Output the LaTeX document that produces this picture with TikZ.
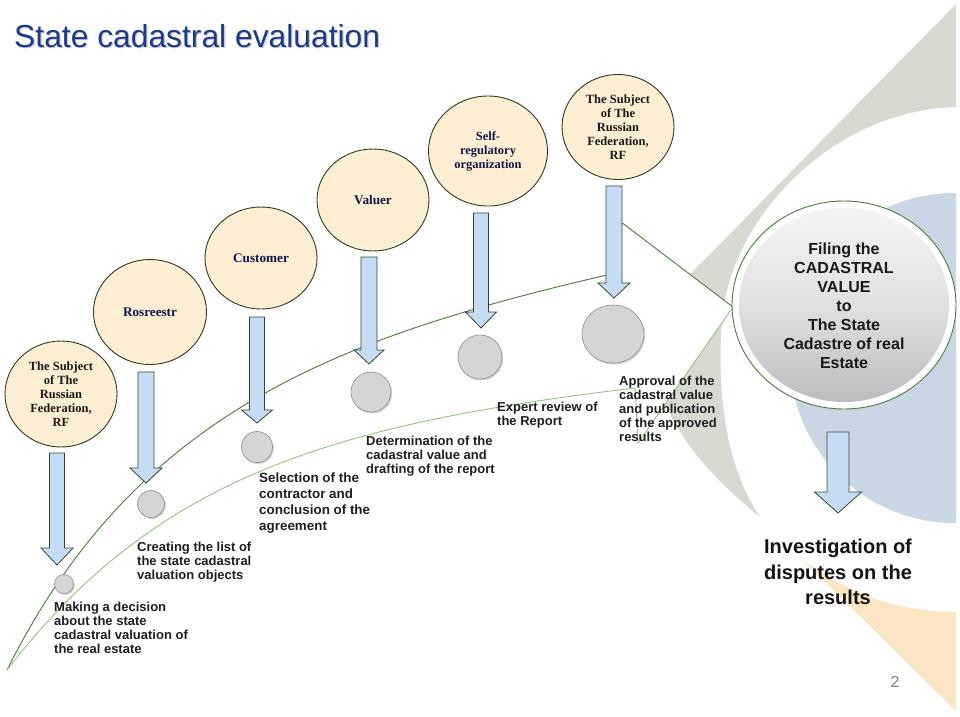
\documentclass[tikz,border=0pt]{standalone}
\usepackage{fontspec}
\setmainfont{Liberation Serif}
\newfontfamily\arialf{Liberation Sans}
\usetikzlibrary{shapes.geometric,shadows}
\definecolor{beige}{HTML}{FCEED2}
\definecolor{edgegreen}{HTML}{2B3A1F}
\definecolor{arrowblue}{HTML}{C6DCF5}
\definecolor{arrowedge}{HTML}{2E4A2E}
\definecolor{bggray}{HTML}{D8DAD2}
\definecolor{bgblue}{HTML}{C9D6E3}
\definecolor{bgtan}{HTML}{FAE6C3}
\definecolor{navy}{HTML}{16164A}
\definecolor{titleblue}{HTML}{1A3A8E}
\definecolor{darkgreen}{HTML}{4A7A3C}
\definecolor{lightgreen}{HTML}{93C47D}
\definecolor{dotgray}{HTML}{D5D5D5}
\definecolor{dotedge}{HTML}{8C8C8C}
\newcommand\blockarrow[6]{%
  \draw[barrow] ({#1-#5},#2) -- ({#1+#5},#2) -- ({#1+#5},#3) -- ({#1+#6},#3)
    -- (#1,#4) -- ({#1-#6},#3) -- ({#1-#5},#3) -- cycle;}
\tikzset{
  actor/.style={ellipse, draw=edgegreen, line width=0.9pt, fill=beige, inner sep=0pt,
    align=center, font=\bfseries\fontsize{12.5}{14}\selectfont},
  bigword/.style={font=\bfseries\fontsize{13.2}{14}\selectfont},
  barrow/.style={draw=arrowedge, line width=0.8pt, fill=arrowblue, line join=miter},
  dot/.style={circle, draw=dotedge, line width=0.6pt, fill=dotgray, inner sep=0pt,
    drop shadow={shadow xshift=1.2pt, shadow yshift=-1.5pt, opacity=0.35}},
  lab/.style={anchor=north west, inner sep=0pt, align=left, text=black!88,
    font=\arialf\bfseries\fontsize{13}{14}\selectfont},
}
\begin{document}
\begin{tikzpicture}[x=1pt,y=-1pt]
\useasboundingbox (0,0) rectangle (960,716);
\fill[white] (0,0) rectangle (960,716);
% background decoration
\begin{scope}
\clip (0,0) rectangle (956,716);
\fill[bggray] (957,3) -- (650,315) .. controls (645,400) and (690,460) .. (760,517)
  .. controls (728,470) and (716,400) .. (722,320)
  .. controls (730,220) and (830,110) .. (957,107) -- cycle;
\fill[bgblue] (955,358) circle [radius=165];
\fill[bgtan] (803,560) .. controls (850,595) and (900,612) .. (957,612) -- (957,712) -- cycle;
\end{scope}
% title
\node[anchor=west, inner sep=0pt, text=black!20, font=\arialf\fontsize{31.8}{36}\selectfont] at (15.3,37.5) {State cadastral evaluation};
\node[anchor=west, inner sep=0pt, text=titleblue, font=\arialf\fontsize{31.8}{36}\selectfont] (title) at (14,36) {State cadastral evaluation};
% big curved arrow
\coordinate (start) at (7,670);
\coordinate (outerend) at (620,272);
\coordinate (barbtop) at (621,222);
\coordinate (tip) at (733,307);
\coordinate (barbbot) at (638,443);
\coordinate (innerend) at (635,388);
\fill[white] (start) .. controls (137,410) and (340,336) .. (outerend) -- (barbtop) -- (tip)
  -- (barbbot) -- (innerend) .. controls (335,424) and (157,475) .. (start) -- cycle;
\draw[darkgreen, line width=0.9pt] (start) .. controls (137,410) and (340,336) .. (outerend) -- (barbtop) -- (tip);
\draw[lightgreen, line width=0.9pt] (tip) -- (barbbot) -- (innerend) .. controls (335,424) and (157,475) .. (start);
% actors
\node[actor, minimum width=112pt, minimum height=106pt, text=black!90] (subj1) at (61,394) {The Subject\\of The\\Russian\\Federation,\\RF};
\node[actor, bigword, minimum width=113pt, minimum height=105pt, text=navy] (rosreestr) at (150,312) {Rosreestr};
\node[actor, bigword, minimum width=112pt, minimum height=102pt, text=navy] (customer) at (261,258) {Customer};
\node[actor, bigword, minimum width=112pt, minimum height=102pt, text=navy] (valuer) at (373,200) {Valuer};
\node[actor, minimum width=119pt, minimum height=110pt, text=navy] (sro) at (488,151) {Self-\\regulatory\\organization};
\node[actor, minimum width=112pt, minimum height=105pt, text=black!90] (subj2) at (618,127) {The Subject\\of The\\Russian\\Federation,\\RF};
% block arrows
\blockarrow{57}{453}{548}{565}{7.5}{16}
\blockarrow{146}{372}{468}{483}{8}{16}
\blockarrow{257}{317}{410}{423}{7.5}{15.5}
\blockarrow{369}{257}{350}{364}{8}{15}
\blockarrow{481}{213}{312}{328}{7.5}{15.5}
\blockarrow{614}{186}{283}{298}{8}{16}
% step dots
\node[dot, minimum size=19pt] (d1) at (64,584) {};
\node[dot, minimum size=27pt] (d2) at (151,504) {};
\node[dot, minimum size=31pt] (d3) at (257,447) {};
\node[dot, minimum size=40pt] (d4) at (371,392) {};
\node[dot, minimum size=44pt] (d5) at (480,357) {};
\node[dot, ellipse, minimum width=62pt, minimum height=58pt] (d6) at (613,334) {};
% final circle
\node[ellipse, draw=darkgreen, line width=0.9pt, fill=white, minimum width=224pt, minimum height=208pt, inner sep=0pt] (filing) at (844,305) {};
\node[ellipse, inner sep=0pt, minimum width=210pt, minimum height=194pt, top color=black!4, bottom color=black!26, middle color=black!12] (filingin) at (filing.center) {};
\node[align=center, inner sep=0pt, text=black!90, font=\arialf\bfseries\fontsize{16}{19}\selectfont] (filingtext) at (844,306) {Filing the\\CADASTRAL\\VALUE\\to\\The State\\Cadastre of real\\Estate};
\blockarrow{838}{432}{492}{513}{11}{23.5}
% step labels
\node[lab] (l1) at (54,602) {Making a decision\\about the state\\cadastral valuation of\\the real estate};
\node[lab] (l2) at (137,542) {Creating the list of\\the state cadastral\\valuation objects};
\node[lab, font=\arialf\bfseries\fontsize{13.4}{16}\selectfont] (l3) at (259,473) {Selection of the\\contractor and\\conclusion of the\\agreement};
\node[lab] (l4) at (366,436) {Determination of the\\cadastral value and\\drafting of the report};
\node[lab] (l5) at (497,402) {Expert review of\\the Report};
\node[lab] (l6) at (619,376) {Approval of the\\cadastral value\\and publication\\of the approved\\results};
\node[anchor=north, align=center, inner sep=0pt, text=black!92, font=\arialf\bfseries\fontsize{20}{25.5}\selectfont] (invest) at (838,539) {Investigation of\\disputes on the\\results};
\node[text=black!50, inner sep=0pt, font=\arialf\fontsize{16}{18}\selectfont] (pagenum) at (895,682) {2};
\end{tikzpicture}
\end{document}
